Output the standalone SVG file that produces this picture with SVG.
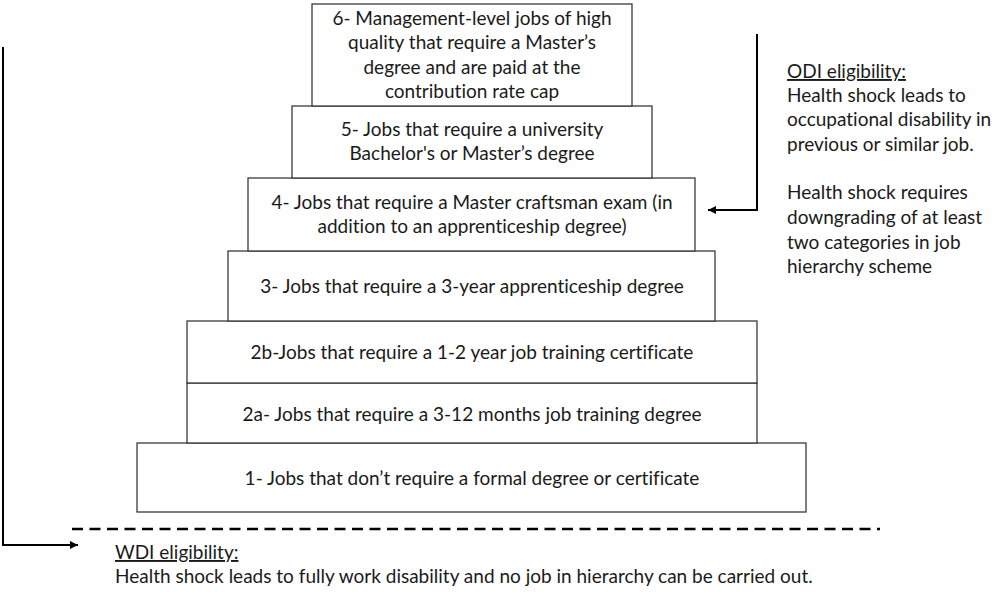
<svg xmlns="http://www.w3.org/2000/svg" width="992" height="592" viewBox="0 0 992 592">
  <defs>
    <style>
      .box { fill: #ffffff; stroke: #3a3a3a; stroke-width: 1.3; }
      .lbl { font-family: Lato, "Open Sans", "Liberation Sans", sans-serif; font-size: 19px; fill: #1a1a1a; text-anchor: middle; font-variant-ligatures: none; }
      .note { font-family: Lato, "Open Sans", "Liberation Sans", sans-serif; font-size: 19px; fill: #1a1a1a; font-variant-ligatures: none; }
      .u { text-decoration: underline; }
      .conn { fill: none; stroke: #000000; stroke-width: 2; }
      .dash { fill: none; stroke: #000000; stroke-width: 2.5; stroke-dasharray: 11 6.5; }
    </style>
    <marker id="arrow" viewBox="0 0 10 10" refX="10" refY="5" markerWidth="4" markerHeight="4" orient="auto" markerUnits="strokeWidth">
      <path d="M0,0 L10,5 L0,10 Z" fill="#000000"/>
    </marker>
  </defs>
  <rect width="992" height="592" fill="#ffffff"/>

  <!-- job hierarchy, stacked from bottom (1) to top (6) -->
  <g id="level-1">
    <rect class="box" x="137" y="443" width="669" height="69"/>
    <text class="lbl" x="472" y="485">1- Jobs that don’t require a formal degree or certificate</text>
  </g>
  <g id="level-2a">
    <rect class="box" x="187" y="383" width="570" height="60"/>
    <text class="lbl" x="472" y="421">2a- Jobs that require a 3-12 months job training degree</text>
  </g>
  <g id="level-2b">
    <rect class="box" x="187" y="321" width="570" height="62"/>
    <text class="lbl" x="472" y="359">2b-Jobs that require a 1-2 year job training certificate</text>
  </g>
  <g id="level-3">
    <rect class="box" x="228" y="251" width="487" height="70"/>
    <text class="lbl" x="472" y="293">3- Jobs that require a 3-year apprenticeship degree</text>
  </g>
  <g id="level-4">
    <rect class="box" x="248" y="178" width="447" height="73"/>
    <text class="lbl" x="472" y="209">4- Jobs that require a Master craftsman exam (in</text>
    <text class="lbl" x="472" y="233">addition to an apprenticeship degree)</text>
  </g>
  <g id="level-5">
    <rect class="box" x="292" y="106" width="360" height="72"/>
    <text class="lbl" x="472" y="136">5- Jobs that require a university</text>
    <text class="lbl" x="472" y="160">Bachelor's or Master’s degree</text>
  </g>
  <g id="level-6">
    <rect class="box" x="312" y="4" width="320" height="102"/>
    <text class="lbl" x="472" y="25">6- Management-level jobs of high</text>
    <text class="lbl" x="472" y="49">quality that require a Master’s</text>
    <text class="lbl" x="472" y="74">degree and are paid at the</text>
    <text class="lbl" x="472" y="98">contribution rate cap</text>
  </g>

  <!-- eligibility notes -->
  <g id="odi-note">
    <text class="note" x="787" y="78"><tspan class="u">ODI eligibility:</tspan></text>
    <text class="note" x="787" y="102">Health shock leads to</text>
    <text class="note" x="787" y="126">occupational disability in</text>
    <text class="note" x="787" y="151">previous or similar job.</text>
    <text class="note" x="787" y="199">Health shock requires</text>
    <text class="note" x="787" y="224">downgrading of at least</text>
    <text class="note" x="787" y="249">two categories in job</text>
    <text class="note" x="787" y="273">hierarchy scheme</text>
  </g>
  <g id="wdi-note">
    <text class="note" x="115" y="559"><tspan class="u">WDI eligibility:</tspan></text>
    <text class="note" x="115" y="583">Health shock leads to fully work disability and no job in hierarchy can be carried out.</text>
  </g>

  <!-- connectors -->
  <g id="connectors">
    <line class="dash" x1="72" y1="529" x2="880" y2="529"/>
    <polyline class="conn" points="757,34 757,210 708,210" marker-end="url(#arrow)"/>
    <polyline class="conn" points="3,47 3,545 78,545" marker-end="url(#arrow)"/>
  </g>
</svg>
